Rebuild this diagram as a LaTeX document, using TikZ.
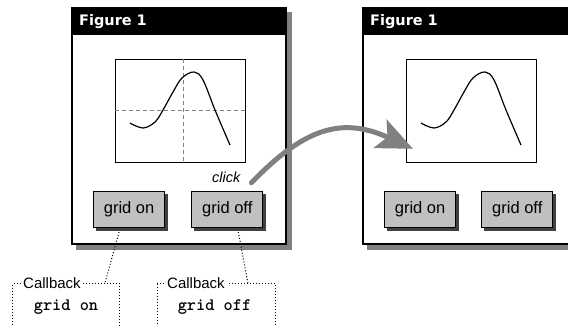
\documentclass[tikz,border=0pt]{standalone}
\usepackage{fontspec}
\setmainfont{Liberation Sans}
\newfontfamily\titlefont{DejaVu Sans}
\usetikzlibrary{positioning}
\usetikzlibrary{calc}
\usetikzlibrary{shadows}
\usetikzlibrary{arrows.meta}
\definecolor{mgray}{RGB}{128,128,128}
\definecolor{mbutton}{RGB}{192,192,192}

\begin{document}
\begin{tikzpicture}[x=1pt, y=-1pt,
    window/.style={draw, line width=2pt, fill=white, minimum width=214pt, minimum height=236pt, anchor=north west, inner sep=0pt,
        copy shadow={shadow xshift=5pt, shadow yshift=-5pt, fill=mgray, draw=mgray}},
    titlebar/.style={fill=black, text=white, font=\titlefont\bfseries\fontsize{14.5}{16}\selectfont, minimum height=28pt,
        text width=198pt, inner xsep=8pt, align=left, anchor=north west},
    axesbox/.style={draw, line width=0.8pt, minimum width=130pt, minimum height=103pt, anchor=north west, inner sep=0pt},
    button/.style={draw, line width=1.2pt, fill=mbutton, minimum width=71pt, minimum height=36pt, anchor=north west, inner sep=0pt,
        font=\fontsize{16.5}{18}\selectfont, copy shadow={shadow xshift=3pt, shadow yshift=-3pt, fill=black!75, draw=black!75}},
    gridline/.style={mgray, line width=1pt, dash pattern=on 4pt off 3pt},
    plotcurve/.style={line width=1.2pt},
    callbox/.style={draw, dotted, line width=1pt, minimum height=70pt, anchor=north west},
    calllabel/.style={fill=white, inner sep=2pt, anchor=west, font=\fontsize{15}{16}\selectfont},
    codetext/.style={font=\ttfamily\bfseries\fontsize{17.5}{19}\selectfont},
    cblink/.style={dotted, line width=1pt},
    clickarrow/.style={mgray, line width=5pt, line cap=round, -{Stealth[length=36pt, width=31pt, inset=8pt]}},
]
\clip (0,0) rectangle (568,326);

% figure before the click
\node[window] (fig1) at (71,7) {};
\node[titlebar] (bar1) at (fig1.north west) {Figure 1};
\node[axesbox] (ax1) at ($(fig1.north west)+(44,52)$) {};
\draw[gridline] ($(ax1.north west)!0.52!(ax1.north east)$) -- ($(ax1.south west)!0.52!(ax1.south east)$);
\draw[gridline] (ax1.west) -- (ax1.east);
\begin{scope}[shift={(ax1.north west)}]
\draw[plotcurve] plot[smooth, tension=.6] coordinates {(15,64) (28,69) (40,63) (48,51) (58,33) (67,19) (79,13) (88,21) (100,51) (115,86)};
\end{scope}
\node[button] (on1) at ($(ax1.south west)+(-22,28)$) {grid on};
\node[button, right=26pt of on1] (off1) {grid off};
\node[font=\itshape\fontsize{14.5}{16}\selectfont] (click) at ($(off1.north)+(-1,-13)$) {click};

% figure after the click
\node[window] (fig2) at (362,7) {};
\node[titlebar] (bar2) at (fig2.north west) {Figure 1};
\node[axesbox] (ax2) at ($(fig2.north west)+(44,52)$) {};
\begin{scope}[shift={(ax2.north west)}]
\draw[plotcurve] plot[smooth, tension=.6] coordinates {(15,64) (28,69) (40,63) (48,51) (58,33) (67,19) (79,13) (88,21) (100,51) (115,86)};
\end{scope}
\node[button] (on2) at ($(ax2.south west)+(-22,28)$) {grid on};
\node[button, right=25pt of on2] (off2) {grid off};

% callbacks
\node[callbox, minimum width=107pt] (cb1) at (12,283) {};
\node[calllabel] (cbl1) at ($(cb1.north west)+(9,0)$) {Callback};
\node[codetext] (code1) at ($(cb1.north)+(0,24)$) {grid on};
\node[callbox, minimum width=118pt] (cb2) at (157,283) {};
\node[calllabel] (cbl2) at ($(cb2.north west)+(8,0)$) {Callback};
\node[codetext] (code2) at ($(cb2.north)+(-2,24)$) {grid off};
\draw[cblink] ($(on1.south)+(-10,4)$) -- ($(cbl1.east)+(22,0)$);
\draw[cblink] ($(off1.south)+(11,4)$) -- ($(cbl2.east)+(21,0)$);

% click arrow
\coordinate (clickstart) at ($(off1.north east)+(-12,-8)$);
\coordinate (clickend) at ($(ax2.south west)+(7,-14)$);
\draw[clickarrow] (clickstart) .. controls ($(clickstart)+(54,-56)$) and ($(clickend)+(-70,-32)$) .. (clickend);
\end{tikzpicture}
\end{document}
